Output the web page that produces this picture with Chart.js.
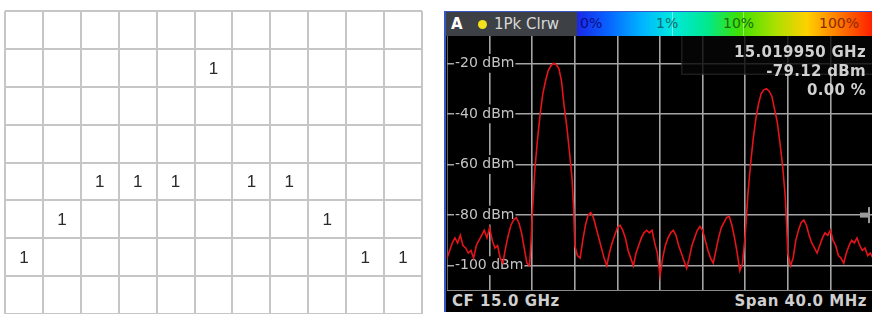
<!DOCTYPE html>
<html lang="en">
<head>
<meta charset="UTF-8">
<title>Quantized grid and spectrum trace</title>
<script src="https://cdn.jsdelivr.net/npm/chart.js"></script>
<style>
  html, body { margin: 0; padding: 0; background: #fff; }
  body { width: 872px; height: 314px; position: relative; overflow: hidden; font-family: "DejaVu Sans", sans-serif; }
  .abs { position: absolute; }
  #gridChart { position: absolute; left: 3px; top: 9px; }
  #frame { left: 444px; top: 11px; width: 428px; height: 301px; background: #000; border-left: 2px solid #3558c8; border-top: 1px solid #3558c8; box-sizing: border-box; }
  #hdr { left: 446px; top: 12px; width: 131px; height: 24px; background: #3d4045; color: #d8d8d8; }
  #hdr .a { position: absolute; left: 5px; top: 3px; font-weight: bold; font-size: 15px; color: #fff; }
  #hdr .dot { position: absolute; left: 32px; top: 8px; width: 9px; height: 9px; border-radius: 50%; background: #f3e21c; }
  #hdr .mode { position: absolute; left: 48px; top: 3px; font-size: 15px; }
  #bar { left: 577px; top: 12px; width: 295px; height: 24px;
    background: linear-gradient(to right, #1a28e8 0%, #0860ff 10%, #00b4ff 22%, #00e8e0 32%, #00e890 44%, #40e000 55%, #a8e000 67%, #ffd000 78%, #ff8000 88%, #ff2000 100%); }
  #bar span { position: absolute; top: 3px; font-size: 14px; }
  #bar .tick { position: absolute; top: 0; width: 1px; height: 24px; background: rgba(255,255,255,0.45); }
  #spectrum { position: absolute; left: 447px; top: 36px; }
  #marker { right: 6px; top: 43px; text-align: right; color: #d0d0d0; font-weight: bold; font-size: 15px; line-height: 19px; letter-spacing: 0.3px; }
  #foot { left: 446px; top: 291px; width: 426px; height: 21px; background: #000; color: #cfcfcf; font-weight: bold; font-size: 15px; letter-spacing: 0.5px; }
  #foot .l { position: absolute; left: 6px; top: 1px; }
  #foot .r { position: absolute; right: 5px; top: 1px; }
</style>
</head>
<body>
  <canvas id="gridChart" width="422" height="308"></canvas>

  <div id="frame" class="abs"></div>
  <div id="hdr" class="abs"><span class="a">A</span><span class="dot"></span><span class="mode">1Pk Clrw</span></div>
  <div id="bar" class="abs">
    <span style="left:3px;color:#0c0c86">0%</span>
    <div class="tick" style="left:95px"></div>
    <span style="left:79px;color:#0a6a70">1%</span>
    <div class="tick" style="left:166px"></div>
    <span style="left:146px;color:#1a6a10">10%</span>
    <span style="left:242px;color:#8a2a00">100%</span>
  </div>
  <canvas id="spectrum" width="426" height="255"></canvas>
  <div id="marker" class="abs">15.019950 GHz<br>-79.12 dBm<br>0.00 %</div>
  <div id="foot" class="abs"><span class="l">CF 15.0 GHz</span><span class="r">Span 40.0 MHz</span></div>

<script>
  // left panel: one "1" per column, row index counted from the top
  const gridColumnCount = 11;
  const gridRowCount = 8;
  const peakRowByColumn = [6, 5, 4, 4, 4, 1, 4, 4, 5, 6, 6];
  const cellValues = [1, 1, 1, 1, 1, 1, 1, 1, 1, 1, 1];

  // right panel: spectrum trace, offset from CF 15.0 GHz in MHz, level in dBm
  const traceOffsetMHz = [
    -20, -19.75, -19.5, -19.25, -19, -18.75, -18.5, -18.25, -18, -17.75, -17.5, -17.25, -17, -16.75, -16.5, -16.25,
    -16, -15.75, -15.5, -15.25, -15, -14.75, -14.5, -14.25, -14, -13.75, -13.5, -13.25, -13, -12.75, -12.5, -12.25,
    -12.1, -12, -11.75, -11.5, -11.25, -11, -10.75, -10.5, -10.25, -10, -9.75, -9.5, -9.25, -9, -8.75, -8.5, -8.25,
    -8.1, -8, -7.75, -7.5, -7.25, -7, -6.75, -6.5, -6.25, -6, -5.75, -5.5, -5.25, -5, -4.75, -4.5, -4.25, -4,
    -3.75, -3.5, -3.25, -3, -2.75, -2.5, -2.25, -2, -1.75, -1.5, -1.25, -1, -0.75, -0.5, -0.25, 0,
    0.25, 0.5, 0.75, 1, 1.25, 1.5, 1.75, 2, 2.25, 2.5, 2.75, 3, 3.25, 3.5, 3.75, 4, 4.25, 4.5, 4.75, 5,
    5.25, 5.5, 5.75, 6, 6.25, 6.5, 6.75, 7, 7.25, 7.5, 7.75, 8, 8.25, 8.5, 8.75, 9, 9.25, 9.5, 9.75, 10,
    10.25, 10.5, 10.75, 11, 11.25, 11.5, 11.75, 11.9, 12, 12.25, 12.5, 12.75, 13, 13.25, 13.5, 13.75, 14,
    14.25, 14.5, 14.75, 15, 15.25, 15.5, 15.75, 16, 16.25, 16.5, 16.75, 17, 17.25, 17.5, 17.75, 18,
    18.25, 18.5, 18.75, 19, 19.25, 19.5, 19.75, 20
  ];
  const traceLevelDbm = [
    -97, -94, -91, -89, -91, -88, -92, -93, -95, -94, -97, -92, -90, -88, -86, -89,
    -85, -90, -93, -92, -97, -99, -93, -88, -84, -82, -81, -83, -87, -93, -99, -100,
    -90, -80, -62, -50, -40, -32, -27, -23, -21, -20, -20.5, -22, -27, -37, -45, -55, -66,
    -78, -92, -96, -97, -90, -84, -80, -79, -81, -85, -89, -93, -97, -100, -95, -91, -88, -85,
    -84, -86, -89, -94, -97, -100, -95, -92, -89, -87, -86, -87, -86, -91, -95, -104,
    -97, -92, -89, -87, -86, -88, -92, -95, -98, -101, -97, -92, -89, -86, -84.5, -86, -90, -94, -97, -99,
    -94, -89, -85, -83, -81, -80.5, -84, -89, -95, -102, -99, -88, -72, -60, -50, -42, -36, -32, -30.5, -30,
    -31, -33, -38, -43, -51, -60, -72, -85, -95, -100, -97, -90, -86, -83, -82, -84, -88,
    -91, -93, -95, -92, -89, -87, -88, -86, -90, -92, -96, -97, -99, -95, -92, -90,
    -91, -89, -92, -94, -93, -96, -95, -97
  ];
  const levelTicksDbm = [-20, -40, -60, -80, -100];
  const freqGridMHz = [-20, -16, -12, -8, -4, 0, 4, 8, 12, 16, 20];
  const thresholdDbm = -80;

  // ---------- left grid ----------
  const gridLabelPlugin = {
    id: 'gridLabels',
    afterDatasetsDraw(chart) {
      const ctx = chart.ctx;
      const meta = chart.getDatasetMeta(0);
      ctx.save();
      ctx.font = '17px "Liberation Sans", Arial, sans-serif';
      ctx.fillStyle = '#2a2a2a';
      ctx.textAlign = 'center';
      ctx.textBaseline = 'middle';
      meta.data.forEach((pt, i) => {
        ctx.fillText(String(cellValues[i]), pt.x, pt.y + 1);
      });
      ctx.restore();
    }
  };

  const gridLines = {color: '#c6c6c6', lineWidth: 2, drawTicks: false};
  new Chart(document.getElementById('gridChart'), {
    type: 'scatter',
    data: {
      datasets: [{
        data: peakRowByColumn.map((row, col) => ({x: col + 0.5, y: row + 0.5})),
        pointRadius: 0,
        showLine: false
      }]
    },
    options: {
      responsive: false,
      animation: false,
      layout: {padding: {left: 2, top: 2, right: 3, bottom: 3}},
      plugins: {legend: {display: false}, tooltip: {enabled: false}},
      scales: {
        x: {
          type: 'linear', min: 0, max: gridColumnCount,
          afterBuildTicks: axis => { axis.ticks = Array.from({length: gridColumnCount + 1}, (_, i) => ({value: i})); },
          ticks: {display: false},
          grid: gridLines,
          border: {display: false}
        },
        y: {
          type: 'linear', min: 0, max: gridRowCount, reverse: true,
          afterBuildTicks: axis => { axis.ticks = Array.from({length: gridRowCount + 1}, (_, i) => ({value: i})); },
          ticks: {display: false},
          grid: gridLines,
          border: {display: false}
        }
      }
    },
    plugins: [gridLabelPlugin]
  });

  // ---------- right spectrum ----------
  // dark box behind the marker readout (under the trace) + small threshold mark on the right edge
  const markerBoxPlugin = {
    id: 'markerBox',
    beforeDatasetsDraw(chart) {
      const {ctx, chartArea} = chart;
      const left = chart.scales.x.getPixelForValue(2);
      const bottom = chart.scales.y.getPixelForValue(-24.5);
      ctx.save();
      ctx.fillStyle = 'rgba(6,6,6,0.82)';
      ctx.fillRect(left, chartArea.top, chartArea.right - left, bottom - chartArea.top);
      ctx.strokeStyle = 'rgba(80,80,80,0.5)';
      ctx.lineWidth = 1;
      ctx.strokeRect(left + 0.5, chartArea.top - 1, chartArea.right - left, bottom - chartArea.top + 0.5);

      const ty = chart.scales.y.getPixelForValue(thresholdDbm);
      ctx.fillStyle = '#9a9a9a';
      ctx.fillRect(chartArea.right - 13, ty - 2.5, 8, 5);
      ctx.fillRect(chartArea.right - 5, ty - 8, 2, 16);
      ctx.restore();
    }
  };

  new Chart(document.getElementById('spectrum'), {
    type: 'line',
    data: {
      datasets: [{
        data: traceOffsetMHz.map((f, i) => ({x: f, y: traceLevelDbm[i]})),
        borderColor: '#e5141a',
        borderWidth: 1.6,
        pointRadius: 0,
        tension: 0,
        fill: false
      }]
    },
    options: {
      responsive: false,
      animation: false,
      layout: {padding: 0},
      plugins: {legend: {display: false}, tooltip: {enabled: false}},
      scales: {
        x: {
          type: 'linear', min: -20, max: 20,
          afterBuildTicks: axis => { axis.ticks = freqGridMHz.map(v => ({value: v})); },
          afterFit: axis => { axis.height = 0; axis.paddingLeft = 0; axis.paddingRight = 0; },
          ticks: {display: false},
          grid: {color: '#a4a4a4', lineWidth: 1.6, drawTicks: false},
          border: {display: true, color: '#8a8a8a', width: 1.5}
        },
        y: {
          type: 'linear', min: -110, max: -9.2,
          afterBuildTicks: axis => { axis.ticks = levelTicksDbm.map(v => ({value: v})); },
          // labels sit inside the plot, so the axis takes no room
          afterFit: axis => { axis.width = 0; axis.paddingTop = 0; axis.paddingBottom = 0; },
          ticks: {
            mirror: true,
            padding: 8,
            color: '#c4c4c4',
            font: {family: '"DejaVu Sans", sans-serif', size: 14},
            callback: v => v + ' dBm',
            showLabelBackdrop: true,
            backdropColor: '#000',
            backdropPadding: 1
          },
          grid: {color: '#a4a4a4', lineWidth: 1.6, drawTicks: false},
          border: {display: false}
        }
      }
    },
    plugins: [markerBoxPlugin]
  });
</script>
</body>
</html>
